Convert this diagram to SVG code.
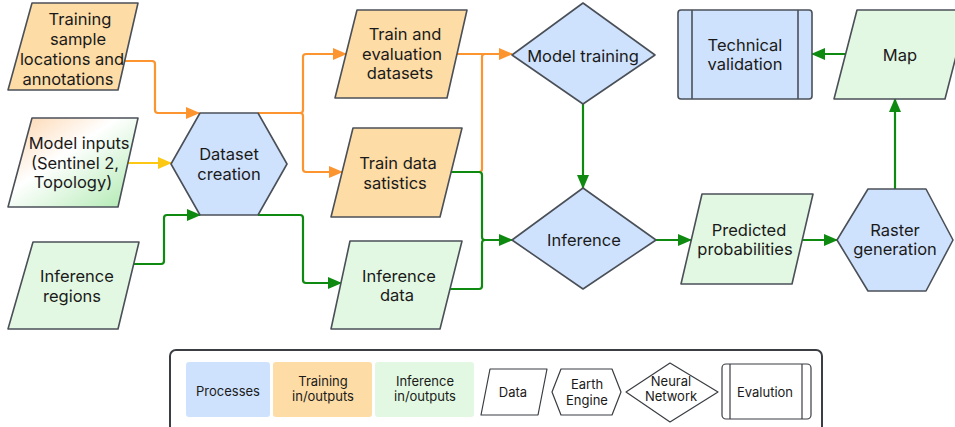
<svg xmlns="http://www.w3.org/2000/svg" width="955" height="427" viewBox="0 0 955 427">
<style>
.n{stroke:#4b5058;stroke-width:1.6;stroke-linejoin:round}
.blue{fill:#cfe2fd}
.orange{fill:#fddca6}
.green{fill:#e2f8e2}
.t{font-family:Inter,"Liberation Sans",sans-serif;font-size:16.5px;fill:#1a1a1a;text-anchor:middle}
.lt{font-family:Inter,"Liberation Sans",sans-serif;font-size:13px;fill:#1a1a1a;text-anchor:middle}
.c{fill:none;stroke-width:2.2;stroke-linejoin:round}
.co{stroke:#fc9530}
.cg{stroke:#0e8a10}
.cy{stroke:#fcc813}
.ln{fill:#fff;stroke:#3a3d42;stroke-width:1.2;stroke-linejoin:round}
</style>
<defs>
<marker id="ao" markerWidth="14" markerHeight="12" refX="13" refY="6" orient="auto" markerUnits="userSpaceOnUse"><path d="M0,0 L14,6 L0,12 Z" fill="#fc9530"/></marker>
<marker id="ag" markerWidth="14" markerHeight="12" refX="13" refY="6" orient="auto" markerUnits="userSpaceOnUse"><path d="M0,0 L14,6 L0,12 Z" fill="#0e8a10"/></marker>
<marker id="ay" markerWidth="14" markerHeight="12" refX="13" refY="6" orient="auto" markerUnits="userSpaceOnUse"><path d="M0,0 L14,6 L0,12 Z" fill="#fcc813"/></marker>
<linearGradient id="grad" x1="0" y1="0" x2="1" y2="1">
<stop offset="0" stop-color="#fdd3a8"/>
<stop offset="0.42" stop-color="#ffffff"/>
<stop offset="1" stop-color="#ade9ae"/>
</linearGradient>
</defs>

<g id="connectors">
<path class="c co" d="M125,61 H152 Q155,61 155,64 V110 Q155,113 158,113 H199" marker-end="url(#ao)"/>
<path class="c cy" d="M128,163 H171" marker-end="url(#ay)"/>
<path class="c cg" d="M134,264 H161 Q164,264 164,261 V218 Q164,215 167,215 H200" marker-end="url(#ag)"/>
<path class="c co" d="M258,113 H300 Q303,113 303,110 V57 Q303,54 306,54 H346" marker-end="url(#ao)"/>
<path class="c co" d="M300,113 Q303,113 303,116 V169 Q303,172 306,172 H342" marker-end="url(#ao)"/>
<path class="c cg" d="M258,215 H300 Q303,215 303,218 V280 Q303,283 306,283 H341" marker-end="url(#ag)"/>
<path class="c co" d="M457,54 H512" marker-end="url(#ao)"/>
<path class="c co" d="M451,172 H479 Q482,172 482,169 V57 Q482,54 485,54 H490"/>
<path class="c cg" d="M451,172 H479 Q482,172 482,175 V237 Q482,240 485,240 H512" marker-end="url(#ag)"/>
<path class="c cg" d="M450,289 H479 Q482,289 482,286 V243 Q482,240 485,240 H490"/>
<path class="c cg" d="M583,104 V188" marker-end="url(#ag)"/>
<path class="c cg" d="M656,240 H691" marker-end="url(#ag)"/>
<path class="c cg" d="M802,240 H837" marker-end="url(#ag)"/>
<path class="c cg" d="M895,189 V99" marker-end="url(#ag)"/>
<path class="c cg" d="M846,54 H812" marker-end="url(#ag)"/>
</g>

<g id="training-samples">
<path class="n orange" d="M32,3 L138,3 L118,90 L8,90 Z"/>
<text class="t" x="80" y="25">Training</text>
<text class="t" x="78" y="45">sample</text>
<text class="t" x="72" y="65">locations and</text>
<text class="t" x="68" y="85">annotations</text>
</g>

<g id="model-inputs">
<path class="n" fill="url(#grad)" d="M32,118 L138,118 L118,207 L8,207 Z"/>
<text class="t" x="79" y="149">Model inputs</text>
<text class="t" x="75" y="169">(Sentinel 2,</text>
<text class="t" x="73" y="188">Topology)</text>
</g>

<g id="inference-regions">
<path class="n green" d="M33,242 L139,242 L118,329 L8,329 Z"/>
<text class="t" x="77" y="282">Inference</text>
<text class="t" x="72" y="302">regions</text>
</g>

<g id="dataset-creation">
<path class="n blue" d="M171,164 L200,113 L258,113 L287,164 L258,215 L200,215 Z"/>
<text class="t" x="229" y="160">Dataset</text>
<text class="t" x="229" y="180">creation</text>
</g>

<g id="train-eval-datasets">
<path class="n orange" d="M357,10 L467,10 L447,98 L335,98 Z"/>
<text class="t" x="405" y="40">Train and</text>
<text class="t" x="402" y="60">evaluation</text>
<text class="t" x="400" y="79">datasets</text>
</g>

<g id="train-data-statistics">
<path class="n orange" d="M353,128 L462,128 L440,217 L331,217 Z"/>
<text class="t" x="398" y="169">Train data</text>
<text class="t" x="395" y="189">satistics</text>
</g>

<g id="inference-data">
<path class="n green" d="M350,241 L462,241 L440,329 L331,329 Z"/>
<text class="t" x="399" y="282">Inference</text>
<text class="t" x="397" y="301">data</text>
</g>

<g id="model-training">
<path class="n blue" d="M512,55 L583,3 L655,55 L583,104 Z"/>
<text class="t" x="583" y="62">Model training</text>
</g>

<g id="inference">
<path class="n blue" d="M512,240 L583,188 L656,240 L583,289 Z"/>
<text class="t" x="584" y="246">Inference</text>
</g>

<g id="predicted-probabilities">
<path class="n green" d="M702,194 L813,194 L792,284 L681,284 Z"/>
<text class="t" x="749" y="236">Predicted</text>
<text class="t" x="745" y="255">probabilities</text>
</g>

<g id="raster-generation">
<path class="n blue" d="M837,240 L868,189 L926,189 L953,240 L926,291 L868,291 Z"/>
<text class="t" x="895" y="236">Raster</text>
<text class="t" x="895" y="255">generation</text>
</g>

<g id="map">
<path class="n green" d="M857,10 L968,10 L945,99 L834,99 Z"/>
<text class="t" x="900" y="61">Map</text>
</g>

<g id="technical-validation">
<rect class="n blue" x="678" y="10" width="134" height="89" rx="3"/>
<line class="n" x1="692" y1="10" x2="692" y2="99"/>
<line class="n" x1="798" y1="10" x2="798" y2="99"/>
<text class="t" x="745" y="51">Technical</text>
<text class="t" x="745" y="70">validation</text>
</g>

<g id="legend">
<rect x="170" y="350" width="652" height="92" rx="6" fill="#fff" stroke="#3a3d42" stroke-width="2"/>
<rect x="186" y="362" width="84" height="55" rx="3" fill="#cfe2fd"/>
<text class="lt" x="228" y="396">Processes</text>
<rect x="273" y="362" width="99" height="55" rx="3" fill="#fddca6"/>
<text class="lt" x="323" y="386">Training</text>
<text class="lt" x="323" y="401">in/outputs</text>
<rect x="375" y="362" width="99" height="55" rx="3" fill="#e2f8e2"/>
<text class="lt" x="425" y="386">Inference</text>
<text class="lt" x="425" y="401">in/outputs</text>
<path class="ln" d="M490,369 L547,369 L538,415 L481,415 Z"/>
<text class="lt" x="513" y="397">Data</text>
<path class="ln" d="M552,392 L561,369 L612,369 L621,392 L612,415 L561,415 Z"/>
<text class="lt" x="587" y="389">Earth</text>
<text class="lt" x="587" y="405">Engine</text>
<path class="ln" d="M626,392 L670,363 L718,392 L670,422 Z"/>
<text class="lt" x="671" y="386">Neural</text>
<text class="lt" x="671" y="401">Network</text>
<rect class="ln" x="722" y="364" width="89" height="55" rx="4"/>
<line class="ln" x1="730" y1="364" x2="730" y2="419"/>
<line class="ln" x1="802" y1="364" x2="802" y2="419"/>
<text class="lt" x="765" y="397">Evalution</text>
</g>
</svg>
